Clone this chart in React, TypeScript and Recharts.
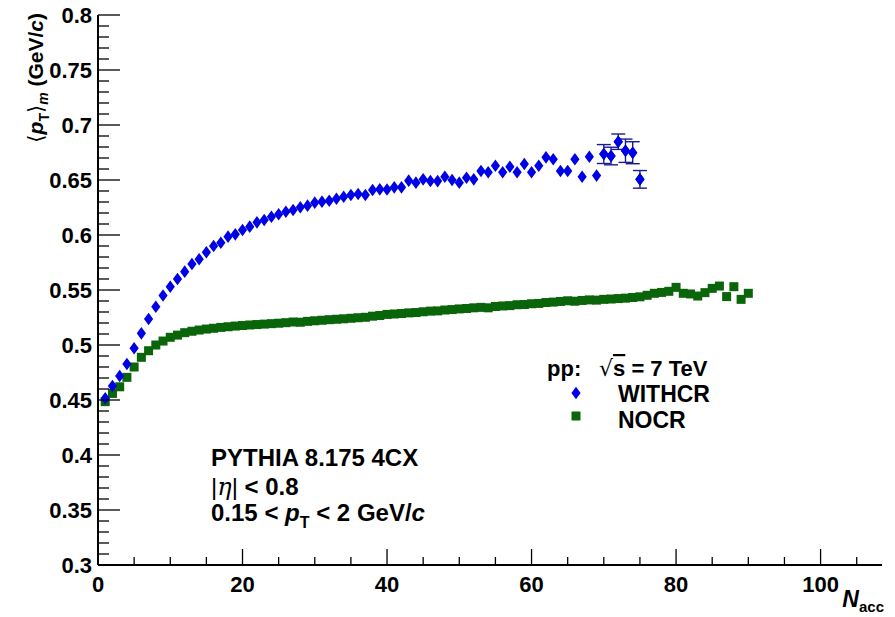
import { ScatterChart, Scatter, XAxis, YAxis, ErrorBar } from 'recharts';

// <pT>_m per accepted multiplicity bin, bins start at N_acc = 1
const WITHCR_MEAN = [
  0.4515, 0.4627, 0.4718, 0.4827, 0.497, 0.5106, 0.5236, 0.5348, 0.545, 0.553,
  0.56, 0.5667, 0.5736, 0.578, 0.5843, 0.59, 0.593, 0.5985, 0.6006, 0.6045,
  0.6076, 0.6115, 0.6136, 0.6166, 0.6188, 0.6212, 0.6227, 0.6252, 0.6267, 0.6294,
  0.6303, 0.6312, 0.633, 0.6348, 0.6364, 0.6373, 0.6364, 0.6409, 0.6415, 0.6413,
  0.6433, 0.6433, 0.6494, 0.6476, 0.6506, 0.6491, 0.649, 0.653, 0.65, 0.6476,
  0.652, 0.6506, 0.6582, 0.657, 0.663, 0.657, 0.662, 0.657, 0.6645, 0.657,
  0.663, 0.6706, 0.6688, 0.6582, 0.6582, 0.6688, 0.653, 0.6712, 0.654, 0.6736,
  0.6718, 0.6848, 0.6766, 0.6748, 0.6506,
];

// statistical errors of the last WITHCR bins (earlier ones hide under the marker)
const WITHCR_TAIL_ERR = [0.0086, 0.008, 0.007, 0.0106, 0.01, 0.008];

const NOCR_MEAN = [
  0.4485, 0.456, 0.462, 0.4706, 0.48, 0.4888, 0.4948, 0.5, 0.5036, 0.507,
  0.509, 0.5112, 0.5125, 0.5136, 0.5145, 0.5152, 0.516, 0.5166, 0.5172, 0.5177,
  0.5182, 0.5186, 0.519, 0.5194, 0.5198, 0.5203, 0.5209, 0.5207, 0.5215, 0.522,
  0.5225, 0.523, 0.5234, 0.5238, 0.5243, 0.5248, 0.5252, 0.5262, 0.5268, 0.5278,
  0.5282, 0.5286, 0.5292, 0.5295, 0.5302, 0.5308, 0.531, 0.5318, 0.5322, 0.5328,
  0.5332, 0.5338, 0.5342, 0.5338, 0.535, 0.5355, 0.5358, 0.5366, 0.5368, 0.5375,
  0.5378, 0.5386, 0.539, 0.5396, 0.5402, 0.5398, 0.5405, 0.541, 0.5408, 0.5415,
  0.5418, 0.5422, 0.5426, 0.5432, 0.5438, 0.5452, 0.547, 0.5478, 0.5488, 0.5524,
  0.547, 0.5464, 0.5445, 0.5476, 0.5515, 0.5536, 0.544, 0.553, 0.5415, 0.547,
];

const X_LABELS = [0, 20, 40, 60, 80, 100];
const Y_LABELS = [0.3, 0.35, 0.4, 0.45, 0.5, 0.55, 0.6, 0.65, 0.7, 0.75, 0.8];

const W = 895;
const H = 617;
const FONT = '"Liberation Sans", Arial, Helvetica, sans-serif';
const BLUE = '#0000e6';
const GREEN = '#0a640a';
const ERR_COLOR = '#1c1c8a';

const withcr = WITHCR_MEAN.map((v, i) => ({ n: i + 1, v }));
const withcrTail = WITHCR_TAIL_ERR.map((err, i) => {
  const idx = WITHCR_MEAN.length - WITHCR_TAIL_ERR.length + i;
  return { n: idx + 1, v: WITHCR_MEAN[idx], err };
});
const nocr = NOCR_MEAN.map((v, i) => ({ n: i + 1, v }));

// ROOT-style divisions: minor every 5 on x, every 0.01 on y
const xTicks = Array.from({ length: 22 }, (_, i) => i * 5);
const yTicks = Array.from({ length: 51 }, (_, i) => Math.round((0.3 + i * 0.01) * 100) / 100);

const isXMajor = (v: number) => X_LABELS.includes(v);
const isYMajor = (v: number) => Y_LABELS.some((l) => Math.abs(l - v) < 1e-6);

const labelStyle = { fontFamily: FONT, fontWeight: 700, fontSize: 22, fill: '#000' };

const LeftTick = ({ x, y, payload }: any) => {
  const major = isYMajor(payload.value);
  return (
    <g>
      <line x1={x} x2={x + (major ? 22 : 11)} y1={y} y2={y} stroke="#000" strokeWidth={1.3} />
      {major && (
        <text x={x - 6} y={y} dy="0.36em" textAnchor="end" style={labelStyle}>
          {String(payload.value)}
        </text>
      )}
    </g>
  );
};

const RightTick = ({ x, y, payload }: any) => {
  const major = isYMajor(payload.value);
  return <line x1={x} x2={x - (major ? 22 : 11)} y1={y} y2={y} stroke="#000" strokeWidth={1.3} />;
};

const BottomTick = ({ x, y, payload }: any) => {
  const major = isXMajor(payload.value);
  return (
    <g>
      <line x1={x} x2={x} y1={y} y2={y - (major ? 16 : 8)} stroke="#000" strokeWidth={1.3} />
      {major && (
        <text x={x} y={y + 27} textAnchor="middle" style={labelStyle}>
          {String(payload.value)}
        </text>
      )}
    </g>
  );
};

const TopTick = ({ x, y, payload }: any) => {
  const major = isXMajor(payload.value);
  return <line x1={x} x2={x} y1={y} y2={y + (major ? 16 : 8)} stroke="#000" strokeWidth={1.3} />;
};

const Diamond = ({ cx, cy }: any) => (
  <polygon points={`${cx},${cy - 6.3} ${cx + 4.6},${cy} ${cx},${cy + 6.3} ${cx - 4.6},${cy}`} fill={BLUE} />
);

const Square = ({ cx, cy }: any) => <rect x={cx - 4.5} y={cy - 4.5} width={9} height={9} fill={GREEN} />;

export default function App() {
  const axisLine = { stroke: '#000', strokeWidth: 2 };
  return (
    <div style={{ position: 'absolute', left: 0, top: 0, width: W, height: H, background: '#fff' }}>
      <ScatterChart width={W} height={H} margin={{ top: 15, right: 13, bottom: 0, left: 0 }}>
        <XAxis
          xAxisId="b"
          type="number"
          dataKey="n"
          domain={[0, 108.5]}
          allowDataOverflow
          ticks={xTicks}
          interval={0}
          height={52}
          tickSize={0}
          tickMargin={0}
          axisLine={axisLine}
          tickLine={false}
          tick={BottomTick}
        />
        <XAxis
          xAxisId="t"
          orientation="top"
          type="number"
          dataKey="n"
          domain={[0, 108.5]}
          allowDataOverflow
          ticks={xTicks}
          interval={0}
          height={0}
          tickSize={0}
          tickMargin={0}
          axisLine={axisLine}
          tickLine={false}
          tick={TopTick}
        />
        <YAxis
          yAxisId="l"
          type="number"
          dataKey="v"
          domain={[0.3, 0.8]}
          allowDataOverflow
          ticks={yTicks}
          interval={0}
          width={98}
          tickSize={0}
          tickMargin={0}
          axisLine={axisLine}
          tickLine={false}
          tick={LeftTick}
        />
        <YAxis
          yAxisId="r"
          orientation="right"
          type="number"
          dataKey="v"
          domain={[0.3, 0.8]}
          allowDataOverflow
          ticks={yTicks}
          interval={0}
          width={0}
          tickSize={0}
          tickMargin={0}
          axisLine={axisLine}
          tickLine={false}
          tick={RightTick}
        />
        <Scatter xAxisId="t" yAxisId="r" data={[]} isAnimationActive={false} />
        <Scatter xAxisId="b" yAxisId="l" data={nocr} shape={Square} isAnimationActive={false} />
        <Scatter xAxisId="b" yAxisId="l" data={withcr} shape={Diamond} isAnimationActive={false} />
        <Scatter xAxisId="b" yAxisId="l" data={withcrTail} shape={Diamond} isAnimationActive={false}>
          <ErrorBar dataKey="err" direction="y" width={7} stroke={ERR_COLOR} strokeWidth={1.4} />
        </Scatter>
      </ScatterChart>

      <svg
        width={W}
        height={H}
        style={{ position: 'absolute', left: 0, top: 0, pointerEvents: 'none' }}
        fontFamily={FONT}
        fontWeight={700}
      >
        {/* y title, reads upwards and ends at the top of the axis */}
        <text transform="translate(43,13) rotate(-90)" textAnchor="end" fontSize={21}>
          <tspan fontFamily='"DejaVu Sans", sans-serif' fontWeight={400}>⟨</tspan>
          <tspan fontStyle="italic">p</tspan>
          <tspan fontSize={14} dy={6}>T</tspan>
          <tspan fontFamily='"DejaVu Sans", sans-serif' fontWeight={400} dy={-6}>⟩</tspan>
          <tspan fontSize={14} fontStyle="italic" dy={5}>m</tspan>
          <tspan dy={-5}> (GeV/</tspan>
          <tspan fontStyle="italic">c</tspan>
          <tspan>)</tspan>
        </text>

        {/* x title */}
        <text x={884} y={607} textAnchor="end" fontSize={23}>
          <tspan fontStyle="italic">N</tspan>
          <tspan fontSize={15} dy={5}>acc</tspan>
        </text>

        {/* generator / cuts */}
        <text x={211} y={466} fontSize={24}>PYTHIA 8.175 4CX</text>
        <text x={211} y={495} fontSize={24}>
          <tspan fontWeight={400}>|</tspan>
          <tspan fontFamily='"DejaVu Serif", serif' fontStyle="italic" fontWeight={400}>η</tspan>
          <tspan fontWeight={400}>|</tspan>
          <tspan> &lt; 0.8</tspan>
        </text>
        <text x={211} y={521} fontSize={24}>
          <tspan>0.15 &lt; </tspan>
          <tspan fontStyle="italic">p</tspan>
          <tspan fontSize={16} dy={7}>T</tspan>
          <tspan dy={-7}> &lt; 2 GeV/</tspan>
          <tspan fontStyle="italic">c</tspan>
        </text>

        {/* legend */}
        <text x={547} y={376} fontSize={22}>
          <tspan>pp:</tspan>
          <tspan x={599} fontFamily='"DejaVu Sans", sans-serif' fontWeight={400}>√</tspan>
          <tspan style={{ textDecoration: 'overline' }}>s</tspan>
          <tspan> = 7 TeV</tspan>
        </text>
        <Diamond cx={576} cy={393} />
        <text x={618} y={402} fontSize={23}>WITHCR</text>
        <Square cx={576} cy={416} />
        <text x={618} y={428} fontSize={23}>NOCR</text>
      </svg>
    </div>
  );
}
